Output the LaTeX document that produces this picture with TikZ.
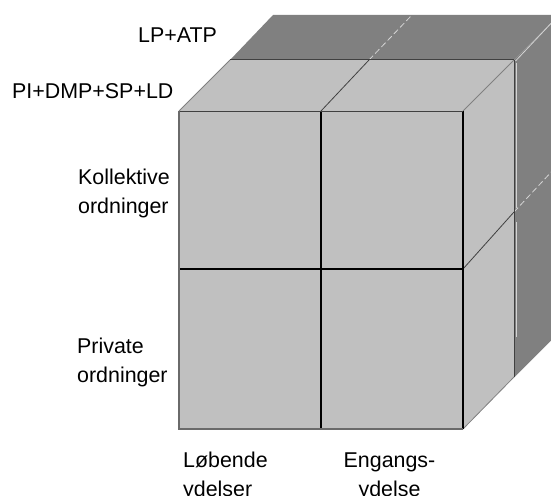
\documentclass[tikz,border=0pt]{standalone}
\usepackage{fontspec}
\setmainfont{Liberation Sans}
\definecolor{lightface}{HTML}{C0C0C0}
\definecolor{darkface}{HTML}{808080}
\definecolor{rimgray}{HTML}{6A6A6A}
\definecolor{hilite}{HTML}{D4D4D4}
\tikzset{
  lbl/.style={inner sep=0pt, anchor=base west, font=\fontsize{21.4}{29}\selectfont},
  lblc/.style={lbl, anchor=base},
  edgeblack/.style={draw=black, line width=1.3pt},
  edgedark/.style={draw=black!75, line width=1pt},
  edgethin/.style={draw=darkface, line width=0.8pt},
  rim/.style={draw=rimgray, line width=2.2pt},
  hiline/.style={draw=hilite, line width=0.8pt},
}
\begin{document}
\begin{tikzpicture}[x=1pt,y=-1pt]
\useasboundingbox (0,0) rectangle (551,495);
\begin{scope}
\clip (0,0) rectangle (551,495);
% back (dark) layer
\fill[darkface] (230,60) -- (514,60) -- (559,15) -- (273,15) -- cycle;
\fill[darkface] (514,60) -- (559,15) -- (559,332) -- (514,377) -- cycle;
% front (light) layer
\fill[lightface] (179,111) -- (463,111) -- (514,60) -- (230,60) -- cycle;
\fill[lightface] (463,111) -- (514,60) -- (514,377) -- (463,429) -- cycle;
\fill[lightface] (179,111) rectangle (463,429);
% highlights on dark layer
\draw[hiline] (516.5,63) -- (516.5,208);
\draw[hiline] (516.5,222) -- (516.5,337);
\draw[hiline, dash pattern=on 6pt off 3pt] (369,60) -- (411,16);
\draw[hiline, dash pattern=on 6pt off 3pt] (514,212) -- (555,168);
\draw[hiline] (515.5,61) -- (558,16);
\draw[edgethin] (514,377) -- (559,332);
% diagonal edges
\draw[edgethin] (179,111) -- (230,60);
\draw[edgethin] (463,429) -- (514,377);
\draw[edgethin] (463,111) -- (514,60);
\draw[edgedark, line width=0.8pt] (321,111) -- (369,60);
\draw[edgedark, line width=0.8pt] (463,269) -- (514,212);
% back edges of light layer
\draw[edgedark] (230,60) -- (514,60);
\draw[edgedark] (514,60) -- (514,377);
% front face grid
\draw[edgeblack] (321,111) -- (321,429);
\draw[edgeblack] (179,269) -- (463,269);
\draw[edgeblack] (463,111) -- (463,429);
\draw[edgedark] (179,111) -- (463,111);
\draw[rim] (179,111) -- (179,429) -- (463,429);
\end{scope}
% labels
\node[lbl] (lpatp) at (138,42) {LP+ATP};
\node[lbl] (pidmp) at (12,98) {PI+DMP+SP+LD};
\node[lbl] (koll1) at (78,184) {Kollektive};
\node[lbl] (koll2) at (78,213) {ordninger};
\node[lbl] (priv1) at (77,353) {Private};
\node[lbl] (priv2) at (77,382) {ordninger};
\node[lbl] (lob1) at (183,467) {Løbende};
\node[lbl] (lob2) at (183,496) {ydelser};
\node[lblc] (eng1) at (389.5,467) {Engangs-};
\node[lblc] (eng2) at (389.5,496) {ydelse};
\end{tikzpicture}
\end{document}
